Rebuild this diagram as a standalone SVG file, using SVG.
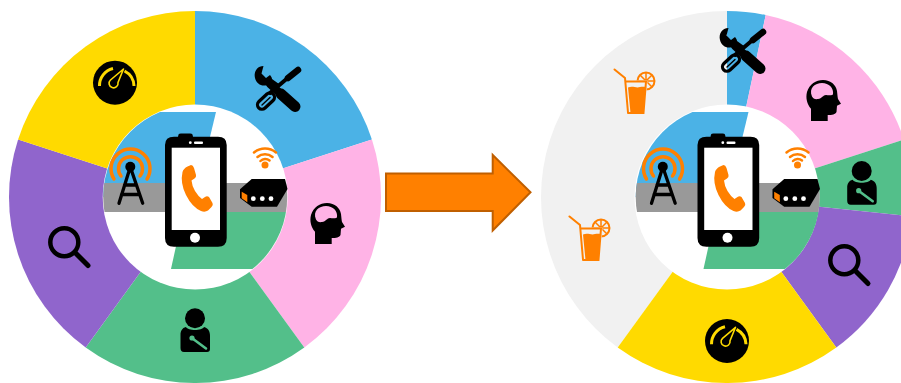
<svg xmlns="http://www.w3.org/2000/svg" width="901" height="383" viewBox="0 0 901 383">
<style>
.blue{fill:#4BB2E6}.yellow{fill:#FFDA00}.pink{fill:#FFB3E6}.purple{fill:#9065CC}.green{fill:#53BF8A}.pale{fill:#F1F1F1}
.k{fill:#000}.o{fill:#FF8000}.w{fill:#fff}
.oarc{fill:none;stroke:#FF8000;stroke-linecap:round}
.kline{fill:none;stroke:#000;stroke-linecap:round;stroke-linejoin:round}
</style>
<defs>
<clipPath id="disc"><circle cx="195.2" cy="197" r="92"/></clipPath>
<g id="tools">
<path class="k" d="M263.500,66 C257,66 253.500,72 255,78 C256.500,84 262,87 267,85 L272,90 L279,84 L272,79 C272,78 271,76 270,75 L266,78 L261.500,73.500 Z"/>
<path class="kline" d="M270,84 L282,95" stroke-width="8" stroke-linecap="butt"/>
<path class="kline" d="M281,94 L295,106.500" stroke-width="11"/>
<path class="kline" d="M270,93 L290,76" stroke-width="4" stroke-linecap="butt"/>
<path class="kline" d="M288,78 L298,70" stroke-width="6.500"/>
<rect x="-10" y="-4.500" width="20" height="9" rx="4.500" transform="translate(266,101) rotate(-43)" fill="none" stroke="#000" stroke-width="3.200"/>
<path class="kline" d="M262,105 L270,97.500" stroke-width="1.400"/>
</g>
<g id="gauge">
<circle cx="115" cy="82.700" r="22" class="k"/>
<path d="M99.500,86 A17.500,17.500 0 0 1 113,68.500 M124.500,71 A17.500,17.500 0 0 1 134,86" fill="none" stroke="#FFDA00" stroke-width="3"/>
<path d="M123.500,69 L118,82.500 A4.500,4.500 0 1 1 110.500,80 Z" fill="none" stroke="#FFDA00" stroke-width="1.600" stroke-linejoin="round"/>
</g>
<g id="head">
<path class="k" fill-rule="evenodd" d="M315,244 L315,231.700 C311,227 309.500,221 311,215 C313.500,207 320,203 327,203 C335,203 340,208 341,214 C341.500,218 341.500,220 342,222 L345,226.700 L341,228.800 L340.500,235 C339.500,237.500 336,238 331.700,238 L331.700,244 Z M316,219.500 C312.500,211 319,206 326,206 C333,206 338,211 337,217.500 C334,219 332,218 330,218 C327,218 326,221.500 322,222 C319,222.500 317,221.500 316,219.500 Z"/>
</g>
<g id="person">
<circle cx="195" cy="318.300" r="10" class="k"/>
<path class="k" d="M186,327 C188,331 202,331 204,327 C208,328 210,331 210,336 L210,349 Q210,352 207,352 L184,352 Q180.500,352 180.500,348 L180.500,335 C180.500,331 182,328 186,327 Z"/>
<path d="M192.500,338.500 L206,348.500" fill="none" stroke="#53BF8A" stroke-width="2.600" stroke-linecap="round"/>
<circle cx="192" cy="338" r="2.600" fill="#53BF8A"/>
</g>
<g id="lens">
<circle cx="64.300" cy="242.300" r="14" fill="none" stroke="#000" stroke-width="4.500"/>
<path class="kline" d="M76,253.500 L88,265.500" stroke-width="5"/>
</g>
<g id="drink">
<circle cx="646" cy="81" r="8.500" fill="none" stroke="#FF8000" stroke-width="2"/>
<path class="oarc" d="M646,73 V89 M638,81 H654 M640.500,75.500 L651.500,86.500 M651.500,75.500 L640.500,86.500" stroke-width="1.500"/>
<path d="M624.500,80.500 H647.500 L644.500,114 H627 Z" fill="#F1F1F1"/>
<path class="oarc" d="M614.500,69.500 L625,78 L628,112.500 M625.500,81.500 H646 L643.500,113 H628" stroke-width="2"/>
<path class="o" d="M628,87.500 C633,85.500 636,88.500 640,87 C642,86.500 644,86.500 645.500,87 L643.500,113 H630.500 Z"/>
</g>
<g id="hub">
<g clip-path="url(#disc)">
<path class="blue" d="M100,112 H216 L195.500,197 H100 Z"/>
<path class="green" d="M171,269 L183.500,212 H300 V269 Z"/>
<rect x="100" y="183" width="192" height="29" fill="#999999"/>
</g>
<path class="oarc" d="M114,179 A19.500,19.500 0 1 1 147,179" stroke-width="3.500"/>
<path class="oarc" d="M121,176 A12,12 0 1 1 140,176" stroke-width="3.500"/>
<circle cx="130.300" cy="166.700" r="5" class="k"/>
<path class="kline" d="M130.300,167 L119,203.300 M130.300,167 L142.700,203.300 M124.500,185 H136 M121.500,194.500 H139" stroke-width="3.300"/>
<path class="k" d="M178,136.700 L178.500,134.500 Q179,133.500 181,133.500 H190 Q192,133.500 192.500,134.500 L193,136.700 H218 Q226.700,136.700 226.700,145 V238 Q226.700,246.700 218,246.700 H174 Q165,246.700 165,238 V145 Q165,136.700 174,136.700 Z"/>
<rect x="171.700" y="147.700" width="48.300" height="82.300" class="w"/>
<circle cx="195" cy="237.700" r="5" class="w"/>
<circle cx="190.300" cy="142.700" r="1.400" class="w"/>
<rect x="194" y="141.500" width="9" height="2.400" rx="1" class="w"/>
<path class="o" d="M187.500,166.500 L191,165 Q193,165 194,168 L196,175 Q196.500,177 194.500,178.500 L191.500,180.500 Q192,186 195,191 Q198,196 202,199 L205,197 Q207,195.500 209,197 L212.500,203 Q213.500,205 211.500,207 L208,210.500 Q205,212.500 201,211 Q192,207 186,195 Q180,183 182.500,172 Q183.500,168.500 187.500,166.500 Z"/>
<circle cx="265" cy="165" r="3.500" class="o"/>
<path class="oarc" d="M254,152.500 A17,17 0 0 1 276,152.500 M257.500,157 A11.500,11.500 0 0 1 272.500,157 M260.500,161 A6.500,6.500 0 0 1 269.500,160.500" stroke-width="2.500"/>
<path class="k" d="M240,189.300 L251.700,179 H285 L287.500,189 L277,206.700 H251.700 L240,198 Z"/>
<path class="o" d="M241.700,191.700 L247.300,195 V202.300 L241.700,198.300 Z"/>
<circle cx="253.300" cy="198.700" r="2.400" class="w"/>
<circle cx="262.300" cy="198.700" r="2.400" class="w"/>
<circle cx="271" cy="198.700" r="2.400" class="w"/>
</g>
</defs>

<g id="ring-before" transform="translate(195,197)">
<path class="blue" d="M0,0 V-186 A186,186 0 0 1 176.900,-57.500 Z"/>
<path class="pink" d="M0,0 L176.900,-57.500 A186,186 0 0 1 109.300,150.500 Z"/>
<path class="green" d="M0,0 L109.300,150.500 A186,186 0 0 1 -109.300,150.500 Z"/>
<path class="purple" d="M0,0 L-109.300,150.500 A186,186 0 0 1 -176.900,-57.500 Z"/>
<path class="yellow" d="M0,0 L-176.900,-57.500 A186,186 0 0 1 0,-186 Z"/>
<circle cx="0.200" r="92.500" class="w"/>
</g>
<g id="ring-after" transform="translate(727,197)">
<path class="pale" d="M0,0 L-109.300,150.500 A186,186 0 0 1 0,-186 Z"/>
<path class="blue" d="M0,0 V-186 A186,186 0 0 1 38.700,-181.900 Z"/>
<path class="pink" d="M0,0 L38.700,-181.900 A186,186 0 0 1 176.900,-57.500 Z"/>
<path class="green" d="M0,0 L176.900,-57.500 A186,186 0 0 1 185,19.400 Z"/>
<path class="purple" d="M0,0 L185,19.400 A186,186 0 0 1 109.300,150.500 Z"/>
<path class="yellow" d="M0,0 L109.300,150.500 A186,186 0 0 1 -109.300,150.500 Z"/>
<circle r="92.500" class="w"/>
</g>

<g id="hub-before"><use href="#hub"/></g>
<g id="hub-after"><use href="#hub" x="532.500"/></g>

<g id="tools-before"><use href="#tools"/></g>
<g id="head-before"><use href="#head"/></g>
<g id="person-before"><use href="#person"/></g>
<g id="lens-before"><use href="#lens"/></g>
<g id="gauge-before"><use href="#gauge"/></g>

<g id="tools-after"><use href="#tools" x="465" y="-38"/></g>
<g id="head-after"><use href="#head" x="496" y="-123"/></g>
<g id="person-after"><use href="#person" x="666.700" y="-147.300"/></g>
<g id="lens-after"><use href="#lens" x="780" y="18"/></g>
<g id="gauge-after"><use href="#gauge" x="612" y="258.300"/></g>
<g id="drink-upper"><use href="#drink"/></g>
<g id="drink-lower"><use href="#drink" x="-45" y="147"/></g>

<g id="connectors">
<path d="M386,173.500 H492.700 V155 L530.500,192.300 L492.700,230.500 V211 H386 Z" fill="#FF8000" stroke="#C05F00" stroke-width="2"/>
</g>
</svg>
